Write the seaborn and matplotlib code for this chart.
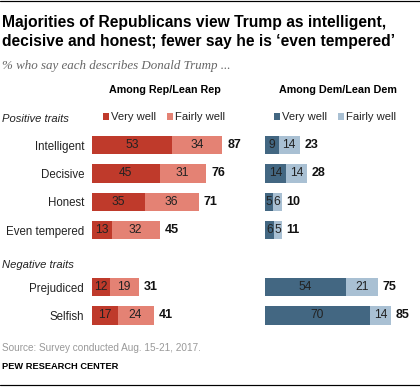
import matplotlib
matplotlib.use("Agg")
import matplotlib.pyplot as plt
from matplotlib.patches import Patch
from matplotlib.lines import Line2D
import seaborn as sns
import pandas as pd

traits = ["Intelligent", "Decisive", "Honest", "Even tempered", "Prejudiced", "Selfish"]
rep_very = [53, 45, 35, 13, 12, 17]
rep_fairly = [34, 31, 36, 32, 19, 24]
rep_total = [87, 76, 71, 45, 31, 41]
dem_very = [9, 14, 5, 6, 54, 70]
dem_fairly = [14, 14, 6, 5, 21, 14]
dem_total = [23, 28, 10, 11, 75, 85]
order = ["Intelligent", "Decisive", "Honest", "Even tempered", " ", "Prejudiced", "Selfish"]

title_lines = ["Majorities of Republicans view Trump as intelligent,",
               "decisive and honest; fewer say he is \u2018even tempered\u2019"]
subtitle = "% who say each describes Donald Trump ..."
source = "Source: Survey conducted Aug. 15-21, 2017."
credit = "PEW RESEARCH CENTER"

REP_VERY, REP_FAIR = "#BF3A2B", "#E48274"
DEM_VERY, DEM_FAIR = "#436782", "#A9C0D3"

sns.set_theme(style="white")
plt.rcParams["font.family"] = ["Liberation Sans", "DejaVu Sans"]

W, H = 420, 387
fig = plt.figure(figsize=(W / 72, H / 72), dpi=72)

def fx(px):
    return px / W

def fy(py):
    return 1 - py / H

top_px, bot_px = 130.8, 329.7
ax_h = (bot_px - top_px) / H
ax_rep = fig.add_axes([fx(92), fy(bot_px), 150 / W, ax_h])
ax_dem = fig.add_axes([fx(265), fy(bot_px), 150 / W, ax_h])

df = pd.DataFrame({
    "trait": traits,
    "rep_very": rep_very, "rep_fairly": rep_fairly, "rep_total": rep_total,
    "dem_very": dem_very, "dem_fairly": dem_fairly, "dem_total": dem_total,
})
df["rep_stack"] = df["rep_very"] + df["rep_fairly"]
df["dem_stack"] = df["dem_very"] + df["dem_fairly"]

for ax, party, cv, cf in [(ax_rep, "rep", REP_VERY, REP_FAIR), (ax_dem, "dem", DEM_VERY, DEM_FAIR)]:
    sns.barplot(data=df, y="trait", x=f"{party}_stack", order=order, color=cf,
                saturation=1, width=0.65, orient="h", ax=ax, edgecolor="none")
    sns.barplot(data=df, y="trait", x=f"{party}_very", order=order, color=cv,
                saturation=1, width=0.65, orient="h", ax=ax, edgecolor="none")
    ax.set_xlim(0, 100)
    ax.set_ylim(6.5, -0.5)
    ax.set_xlabel("")
    ax.set_ylabel("")
    ax.set_xticks([])
    for s in ax.spines.values():
        s.set_visible(False)
    for i, row in df.iterrows():
        pos = order.index(row["trait"])
        v, f, t = row[f"{party}_very"], row[f"{party}_fairly"], row[f"{party}_total"]
        ax.text(v / 2, pos, f"{v}", ha="center", va="center", fontsize=12, color="#222222")
        ax.text(v + f / 2, pos, f"{f}", ha="center", va="center", fontsize=12, color="#222222")
        ax.annotate(f"{t}", xy=(v + f, pos), xytext=(5, 0), textcoords="offset points",
                    ha="left", va="center", fontsize=12.5, fontweight="bold", color="#111111")

ax_rep.tick_params(axis="y", length=0, pad=8, labelsize=11.5, labelcolor="#222222")
ax_dem.set_yticks([])

# Title block
fig.add_artist(Line2D([0, 1], [fy(1), fy(1)], color="black", lw=1.2))
for line, base in zip(title_lines, [27.3, 45.7]):
    fig.text(fx(2), fy(base), line, ha="left", va="baseline", fontsize=15.6,
             fontweight="bold", color="black")
fig.text(fx(2), fy(68.5), subtitle, ha="left", va="baseline", fontsize=13, style="italic",
         color="#666666", family=["Liberation Serif", "DejaVu Serif"])
fig.text(fx(165), fy(93.3), "Among Rep/Lean Rep", ha="center", va="baseline", fontsize=10.8,
         fontweight="bold", color="black")
fig.text(fx(338), fy(93.3), "Among Dem/Lean Dem", ha="center", va="baseline", fontsize=10.8,
         fontweight="bold", color="black")
fig.text(fx(2), fy(121.5), "Positive traits", ha="left", va="baseline", fontsize=11.3,
         style="italic", color="#222222")
fig.text(fx(2), fy(268.5), "Negative traits", ha="left", va="baseline", fontsize=11.3,
         style="italic", color="#222222")

# Legends
for x0, cv, cf in [(103, REP_VERY, REP_FAIR), (274, DEM_VERY, DEM_FAIR)]:
    handles = [Patch(facecolor=cv, edgecolor="none", label="Very well"),
               Patch(facecolor=cf, edgecolor="none", label="Fairly well")]
    fig.legend(handles=handles, loc="center left", bbox_to_anchor=(fx(x0), fy(117.5)),
               ncol=2, frameon=False, fontsize=11.3, handlelength=0.55, handleheight=0.55,
               handletextpad=0.2, columnspacing=0.9, borderpad=0, borderaxespad=0,
               labelcolor="#222222")

fig.text(fx(2), fy(351), source, ha="left", va="baseline", fontsize=10, color="#999999")
fig.text(fx(2), fy(369), credit, ha="left", va="baseline", fontsize=9.2, fontweight="bold",
         color="black")
fig.add_artist(Line2D([0, 1], [fy(385), fy(385)], color="black", lw=1.2))

fig.savefig("out.png", dpi=72)
